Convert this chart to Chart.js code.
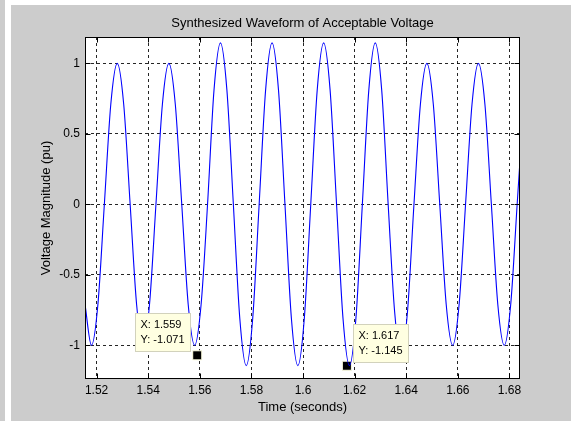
<!DOCTYPE html>
<html>
<head>
<meta charset="utf-8">
<script src="https://cdn.jsdelivr.net/npm/chart.js@4"></script>
<style>
  html, body { margin: 0; padding: 0; background: #fff; width: 571px; height: 421px; overflow: hidden; }
  #strip { position: absolute; left: 0; top: 0; width: 5px; height: 421px; background: #ccc; }
  #fig { position: absolute; left: 11px; top: 5px; width: 560px; height: 416px; background: #ccc; }
</style>
</head>
<body>
<div id="strip"></div>
<div id="fig"><canvas id="wave" width="560" height="416"></canvas></div>
<script>
// ── data ───────────────────────────────────────────────────────────
const times = [
  1.5155, 1.518, 1.5205, 1.523, 1.5255, 1.528, 1.5305, 1.533, 1.5355, 1.538,
  1.5405, 1.543, 1.5455, 1.548, 1.5505, 1.553, 1.5555, 1.558, 1.5605, 1.563,
  1.5655, 1.568, 1.5705, 1.573, 1.5755, 1.578, 1.5805, 1.583, 1.5855, 1.588,
  1.5905, 1.593, 1.5955, 1.598, 1.6005, 1.603, 1.6055, 1.608, 1.6105, 1.613,
  1.6155, 1.618, 1.6205, 1.623, 1.6255, 1.628, 1.6305, 1.633, 1.6355, 1.638,
  1.6405, 1.643, 1.6455, 1.648, 1.6505, 1.653, 1.6555, 1.658, 1.6605, 1.663,
  1.6655, 1.668, 1.6705, 1.673, 1.6755, 1.678, 1.6805, 1.683, 1.6855
];
const volts = [
  -0.71, -1.0, -0.71, 0, 0.71, 1.0, 0.71, 0, -0.71, -1.0,
  -0.71, 0, 0.71, 1.0, 0.71, 0, -0.71, -1.0, -0.71, 0,
  0.81, 1.145, 0.81, 0, -0.81, -1.145, -0.81, 0, 0.81, 1.145,
  0.81, 0, -0.81, -1.145, -0.81, 0, 0.81, 1.145, 0.81, 0,
  -0.81, -1.145, -0.81, 0, 0.81, 1.145, 0.81, 0, -0.76, -1.07,
  -0.76, 0, 0.71, 1.0, 0.71, 0, -0.71, -1.0, -0.71, 0,
  0.71, 1.0, 0.71, 0, -0.71, -1.0, -0.71, 0, 0.71
];
const tipTimes = [1.559, 1.617];
const tipVolts = [-1.071, -1.145];
const xTicks = [1.52, 1.54, 1.56, 1.58, 1.6, 1.62, 1.64, 1.66, 1.68];
const yTicks = [-1, -0.5, 0, 0.5, 1];

const FONT = 'Liberation Sans, Arial, sans-serif';

// white axes box, solid frame with inward ticks, data tips
const matlabAxes = {
  id: 'matlabAxes',
  beforeDraw(chart) {
    const { ctx, chartArea: a } = chart;
    ctx.save();
    ctx.fillStyle = '#fff';
    ctx.fillRect(a.left, a.top, a.right - a.left, a.bottom - a.top);
    ctx.restore();
  },
  afterDatasetsDraw(chart) {
    const { ctx, chartArea: a, scales: { x, y } } = chart;
    const L = Math.round(a.left) + 0.5, R = Math.round(a.right) - 0.5;
    const T = Math.round(a.top) + 0.5, B = Math.round(a.bottom) - 0.5;
    ctx.save();
    ctx.strokeStyle = '#000';
    ctx.lineWidth = 1;
    ctx.beginPath();
    xTicks.forEach(v => {
      const px = Math.round(x.getPixelForValue(v)) + 0.5;
      ctx.moveTo(px, B); ctx.lineTo(px, B - 5);
      ctx.moveTo(px, T); ctx.lineTo(px, T + 5);
    });
    yTicks.forEach(v => {
      const py = Math.round(y.getPixelForValue(v)) + 0.5;
      ctx.moveTo(L, py); ctx.lineTo(L + 5, py);
      ctx.moveTo(R, py); ctx.lineTo(R - 5, py);
    });
    ctx.stroke();
    ctx.strokeRect(L, T, R - L, B - T);

    // data tips
    ctx.font = '11px ' + FONT;
    ctx.textBaseline = 'middle';
    tipTimes.forEach((t, i) => {
      const px = x.getPixelForValue(t), py = y.getPixelForValue(tipVolts[i]);
      const w = 55, h = 38;
      const bx = Math.round(i === 0 ? px - 62 : px + 6) + 0.5;
      const by = Math.round(py - 42) + 0.5;
      ctx.fillStyle = '#ffffe1';
      ctx.fillRect(bx, by, w, h);
      ctx.strokeStyle = '#d2d2bc';
      ctx.strokeRect(bx, by, w, h);
      ctx.fillStyle = '#000';
      ctx.fillText('X: ' + t, bx + 5, by + 11);
      ctx.fillText('Y: ' + tipVolts[i].toFixed(3), bx + 5, by + 26);
    });
    ctx.restore();
  }
};

new Chart(document.getElementById('wave'), {
  type: 'line',
  data: {
    datasets: [
      { label: 'v', data: times.map((t, i) => ({ x: t, y: volts[i] })),
        borderColor: '#0000ff', borderWidth: 1.1, pointRadius: 0,
        cubicInterpolationMode: 'monotone' },
      { label: 'tips', data: tipTimes.map((t, i) => ({ x: t, y: tipVolts[i] })),
        showLine: false, pointStyle: 'rect', pointRadius: 6.4,
        backgroundColor: '#000', borderColor: '#ffffe1', borderWidth: 1 }
    ]
  },
  plugins: [matlabAxes],
  options: {
    responsive: false,
    animation: false,
    layout: { padding: { left: 0, right: 51, top: 0, bottom: 0 } },
    plugins: {
      legend: { display: false },
      tooltip: { enabled: false },
      title: { display: true, fullSize: false, text: 'Synthesized Waveform of Acceptable Voltage',
        color: '#000', font: { family: FONT, size: 13, weight: 'normal' },
        padding: { top: 10.2, bottom: 6.2 } }
    },
    scales: {
      x: {
        type: 'linear', min: 1.5155, max: 1.6841,
        afterBuildTicks: s => { s.ticks = xTicks.map(v => ({ value: v })); },
        afterFit: s => { s.height = 42; },
        ticks: { color: '#000', font: { family: FONT, size: 12 }, padding: 4,
          maxRotation: 0, autoSkip: false, callback: v => String(+v.toFixed(2)) },
        grid: { color: 'rgba(0,0,0,0.85)', lineWidth: 1, drawTicks: false },
        border: { display: false, dash: [3, 3] },
        title: { display: true, text: 'Time (seconds)', color: '#000',
          font: { family: FONT, size: 13 }, padding: { top: 0, bottom: 5.8 } }
      },
      y: {
        type: 'linear', min: -1.239, max: 1.187,
        afterBuildTicks: s => { s.ticks = yTicks.map(v => ({ value: v })); },
        afterFit: s => { s.width = 74; },
        ticks: { color: '#000', font: { family: FONT, size: 12 }, padding: 5,
          autoSkip: false, callback: v => String(v) },
        grid: { color: 'rgba(0,0,0,0.85)', lineWidth: 1, drawTicks: false },
        border: { display: false, dash: [3, 3] },
        title: { display: true, text: 'Voltage Magnitude (pu)', color: '#000',
          font: { family: FONT, size: 13 }, padding: { top: 27.8, bottom: 0 } }
      }
    }
  }
});
</script>
</body>
</html>
